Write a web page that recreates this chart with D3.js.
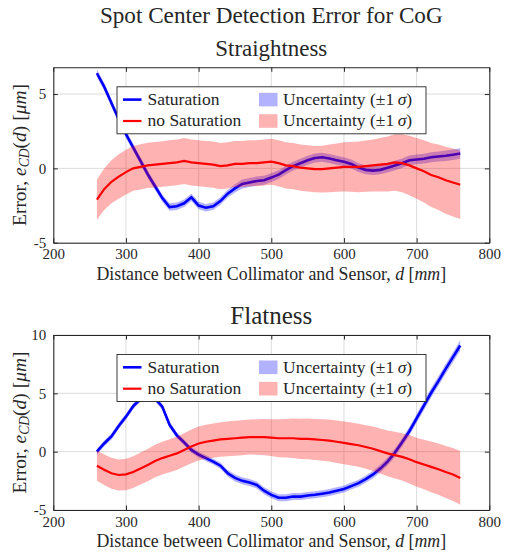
<!DOCTYPE html>
<html><head><meta charset="utf-8">
<script src="https://cdn.jsdelivr.net/npm/d3@7"></script>
<style>body{margin:0;background:#fff}svg{display:block}</style></head>
<body><svg id="c" width="507" height="554"></svg>
<script>
// ---------- DATA ----------
const distance = [260,270,280,290,300,310,320,330,340,350,360,370,380,390,400,410,420,430,440,450,
  460,470,480,490,500,510,520,530,540,550,560,570,580,590,600,610,620,630,640,650,
  660,670,680,690,700,710,720,730,740,750,760];

// Straightness
const satStraight = [6.4,5.5,4.4,3.3,2.3,1.4,0.5,-0.4,-1.2,-2.0,-2.6,-2.55,-2.35,-1.95,-2.5,-2.65,-2.55,-2.2,-1.7,-1.35,
  -1.05,-0.95,-0.85,-0.8,-0.62,-0.42,-0.12,0.15,0.35,0.55,0.7,0.75,0.66,0.55,0.45,0.3,0.05,-0.1,-0.15,-0.1,
  0.05,0.2,0.35,0.55,0.6,0.65,0.75,0.8,0.85,0.92,1.0];
const satStraightSigma = [0.25,0.25,0.25,0.25,0.25,0.25,0.25,0.25,0.25,0.25,0.25,0.25,0.25,0.25,0.25,0.25,0.25,0.25,0.26,0.28,
  0.3,0.3,0.3,0.3,0.3,0.3,0.3,0.3,0.3,0.3,0.3,0.3,0.3,0.3,0.3,0.3,0.3,0.3,0.3,0.3,
  0.32,0.32,0.32,0.32,0.33,0.33,0.34,0.34,0.35,0.35,0.35];
const noSatStraight = [-2.1,-1.4,-0.9,-0.55,-0.25,0.0,0.1,0.2,0.25,0.3,0.35,0.4,0.5,0.4,0.35,0.3,0.25,0.15,0.2,0.3,
  0.3,0.35,0.35,0.4,0.45,0.35,0.2,0.15,0.05,0.0,-0.05,-0.05,0.0,0.05,0.1,0.1,0.1,0.15,0.2,0.25,
  0.3,0.4,0.35,0.2,0.0,-0.2,-0.45,-0.6,-0.8,-0.95,-1.1];
const noSatStraightSigma = [1.35,1.4,1.45,1.5,1.5,1.5,1.52,1.52,1.53,1.53,1.54,1.54,1.55,1.55,1.55,1.55,1.55,1.55,1.55,1.55,
  1.55,1.55,1.55,1.55,1.55,1.55,1.55,1.55,1.55,1.55,1.56,1.58,1.6,1.62,1.65,1.68,1.7,1.72,1.75,1.8,
  1.85,1.9,1.95,2.0,2.05,2.1,2.15,2.2,2.25,2.28,2.3];

// Flatness
const satFlat = [0.0,0.7,1.3,2.2,3.0,3.9,4.5,4.7,4.55,3.85,2.3,1.4,0.8,0.15,-0.25,-0.55,-0.85,-1.2,-1.85,-2.25,
  -2.5,-2.65,-2.85,-3.35,-3.7,-3.95,-3.95,-3.85,-3.85,-3.75,-3.7,-3.6,-3.5,-3.35,-3.2,-2.95,-2.7,-2.35,-1.95,-1.45,
  -0.85,-0.1,0.8,1.75,2.85,3.95,5.05,6.05,7.1,8.1,9.1];
const satFlatSigma = [0.25,0.25,0.25,0.25,0.25,0.25,0.25,0.25,0.25,0.25,0.25,0.25,0.25,0.25,0.25,0.25,0.25,0.27,0.28,0.3,
  0.3,0.3,0.3,0.3,0.3,0.3,0.3,0.3,0.3,0.3,0.3,0.3,0.3,0.3,0.3,0.3,0.3,0.31,0.32,0.33,
  0.34,0.35,0.36,0.37,0.38,0.39,0.4,0.41,0.42,0.43,0.45];
const noSatFlat = [-1.2,-1.55,-1.85,-2.0,-1.95,-1.75,-1.45,-1.15,-0.8,-0.55,-0.35,-0.15,0.15,0.45,0.7,0.85,0.95,1.05,1.1,1.15,
  1.2,1.25,1.25,1.25,1.2,1.15,1.15,1.15,1.1,1.1,1.05,1.0,0.95,0.85,0.75,0.65,0.55,0.4,0.25,0.05,
  -0.15,-0.3,-0.45,-0.65,-0.9,-1.1,-1.3,-1.5,-1.75,-1.95,-2.25];
const noSatFlatSigma = [1.3,1.3,1.32,1.33,1.35,1.36,1.37,1.38,1.39,1.4,1.41,1.42,1.43,1.44,1.45,1.46,1.47,1.48,1.49,1.5,
  1.5,1.5,1.52,1.55,1.58,1.62,1.66,1.7,1.72,1.74,1.76,1.78,1.8,1.82,1.83,1.84,1.85,1.87,1.9,1.93,
  1.96,2.0,2.03,2.07,2.1,2.13,2.17,2.2,2.23,2.27,2.3];

const xTicks = [200,300,400,500,600,700,800];
const yTicksStraight = [-5,0,5];
const yTicksFlat = [-5,0,5,10];
const mainTitle = "Spot Center Detection Error for CoG";
const panelTitles = ["Straightness","Flatness"];
const seriesNames = ["Saturation","no Saturation"];

// ---------- DRAW ----------
const svg = d3.select("#c");
const FONT = "'Liberation Serif', 'DejaVu Serif', serif";
const L = 53.3, R = 489.3;
const x = d3.scaleLinear().domain([200,800]).range([L,R]);

function fit(sel, target){
  const w = sel.node().getComputedTextLength();
  const fs = parseFloat(sel.attr("font-size"));
  sel.attr("font-size", fs*target/w);
}

const t = svg.append("text").attr("x",(L+R)/2).attr("y",23).attr("text-anchor","middle")
  .attr("font-family",FONT).attr("font-size",20).attr("fill","#262626").text(mainTitle);
fit(t,343);

const panels = [
  {top:67.3, bottom:242.7, dom:[-5,6.8], ticks:yTicksStraight, title:panelTitles[0],
   sat:satStraight, satS:satStraightSigma, nos:noSatStraight, nosS:noSatStraightSigma},
  {top:335, bottom:510, dom:[-5,10], ticks:yTicksFlat, title:panelTitles[1],
   sat:satFlat, satS:satFlatSigma, nos:noSatFlat, nosS:noSatFlatSigma}
];

const blue="#0000ff", red="#ff0000", ink="#262626";

panels.forEach((p,pi)=>{
  const y = d3.scaleLinear().domain(p.dom).range([p.bottom,p.top]);
  const g = svg.append("g");
  const clipId = "clip"+pi;
  svg.append("clipPath").attr("id",clipId).append("rect")
    .attr("x",L).attr("y",p.top).attr("width",R-L).attr("height",p.bottom-p.top);

  // grid
  g.selectAll(".gx").data(xTicks.slice(1,-1)).join("line")
    .attr("x1",d=>x(d)).attr("x2",d=>x(d)).attr("y1",p.top).attr("y2",p.bottom)
    .attr("stroke","#dcdcdc").attr("stroke-width",1);
  g.selectAll(".gy").data(p.ticks).join("line")
    .attr("x1",L).attr("x2",R).attr("y1",d=>y(d)).attr("y2",d=>y(d))
    .attr("stroke","#dcdcdc").attr("stroke-width",1);

  const idx = distance.map((d,i)=>i);
  const area = (v,s)=>d3.area().x(i=>x(distance[i])).y0(i=>y(v[i]-s[i])).y1(i=>y(v[i]+s[i]));
  const line = v=>d3.line().x(i=>x(distance[i])).y(i=>y(v[i]));
  const pg = g.append("g").attr("clip-path",`url(#${clipId})`);
  pg.append("path").attr("d",area(p.sat,p.satS)(idx)).attr("fill",blue).attr("fill-opacity",0.3);
  pg.append("path").attr("d",line(p.sat)(idx)).attr("fill","none").attr("stroke",blue).attr("stroke-width",2.6);
  pg.append("path").attr("d",area(p.nos,p.nosS)(idx)).attr("fill",red).attr("fill-opacity",0.3);
  pg.append("path").attr("d",line(p.nos)(idx)).attr("fill","none").attr("stroke",red).attr("stroke-width",2.2);

  // axes box and ticks (inward, all sides)
  const axB = d3.axisBottom(x).tickValues(xTicks).tickSize(-4.5).tickPadding(6).tickFormat(d3.format("d"));
  const axT = d3.axisTop(x).tickValues(xTicks).tickSize(-4.5).tickFormat("");
  const axLft = d3.axisLeft(y).tickValues(p.ticks).tickSize(-4.5).tickPadding(7).tickFormat(d=>String(d).replace("\u2212","-"));
  const axRt = d3.axisRight(y).tickValues(p.ticks).tickSize(-4.5).tickFormat("");
  const styleAx = a=>{a.select(".domain").attr("stroke",ink).attr("stroke-width",1.1);
    a.selectAll(".tick line").attr("stroke",ink);
    a.selectAll("text").attr("font-family",FONT).attr("font-size",15).attr("fill",ink);};
  styleAx(g.append("g").attr("transform",`translate(0,${p.bottom})`).call(axB.tickSizeOuter(0)));
  styleAx(g.append("g").attr("transform",`translate(0,${p.top})`).call(axT.tickSizeOuter(0)));
  styleAx(g.append("g").attr("transform",`translate(${L},0)`).call(axLft.tickSizeOuter(0)));
  styleAx(g.append("g").attr("transform",`translate(${R},0)`).call(axRt.tickSizeOuter(0)));

  // panel title
  const pt = g.append("text").attr("x",(L+R)/2).attr("y",p.top-11).attr("text-anchor","middle")
    .attr("font-family",FONT).attr("font-size",20).attr("fill",ink).text(p.title);
  fit(pt, pi===0?112:82);

  // x label
  const xl = g.append("text").attr("x",(L+R)/2).attr("y",p.bottom+37).attr("text-anchor","middle")
    .attr("font-family",FONT).attr("font-size",16).attr("fill",ink);
  xl.append("tspan").text("Distance between Collimator and Sensor, ");
  xl.append("tspan").attr("font-style","italic").text("d");
  xl.append("tspan").text(" [");
  xl.append("tspan").attr("font-style","italic").text("mm");
  xl.append("tspan").text("]");
  fit(xl,350);

  // y label
  const cy=(p.top+p.bottom)/2;
  const yl = g.append("text").attr("transform",`translate(26,${cy}) rotate(-90)`).attr("text-anchor","middle")
    .attr("font-family",FONT).attr("font-size",16).attr("fill",ink);
  yl.append("tspan").text("Error, ");
  yl.append("tspan").attr("font-style","italic").text("e");
  yl.append("tspan").attr("font-style","italic").attr("font-size","70%").attr("dy",3).text("CD");
  yl.append("tspan").attr("dy",-3).text("(");
  yl.append("tspan").attr("font-style","italic").text("d");
  yl.append("tspan").text(") [");
  yl.append("tspan").attr("font-style","italic").text("\u03bcm");
  yl.append("tspan").text("]");
  fit(yl,142);

  // legend
  const lg = g.append("g").attr("transform",`translate(117,${p.top+19.5})`);
  lg.append("rect").attr("width",309).attr("height",47).attr("fill","#fff")
    .attr("stroke",ink).attr("stroke-width",0.9);
  const rows=[12.8,34.2];
  [blue,red].forEach((c,k)=>{
    lg.append("line").attr("x1",6).attr("x2",24.5).attr("y1",rows[k]).attr("y2",rows[k])
      .attr("stroke",c).attr("stroke-width",k?2.2:2.6);
    lg.append("text").attr("x",30.5).attr("y",rows[k]+5.2).attr("font-family",FONT)
      .attr("font-size",17.5).attr("fill",ink).text(seriesNames[k]);
    lg.append("rect").attr("x",142).attr("y",rows[k]-6.8).attr("width",18.5).attr("height",13.6)
      .attr("fill",c).attr("fill-opacity",0.3);
    const ux = lg.append("text").attr("x",166).attr("y",rows[k]+5.2).attr("font-family",FONT)
      .attr("font-size",17.5).attr("fill",ink);
    ux.append("tspan").text("Uncertainty (\u00b11\u2009");
    ux.append("tspan").attr("font-style","italic").text("\u03c3");
    ux.append("tspan").text(")");
  });
});
</script></body></html>
